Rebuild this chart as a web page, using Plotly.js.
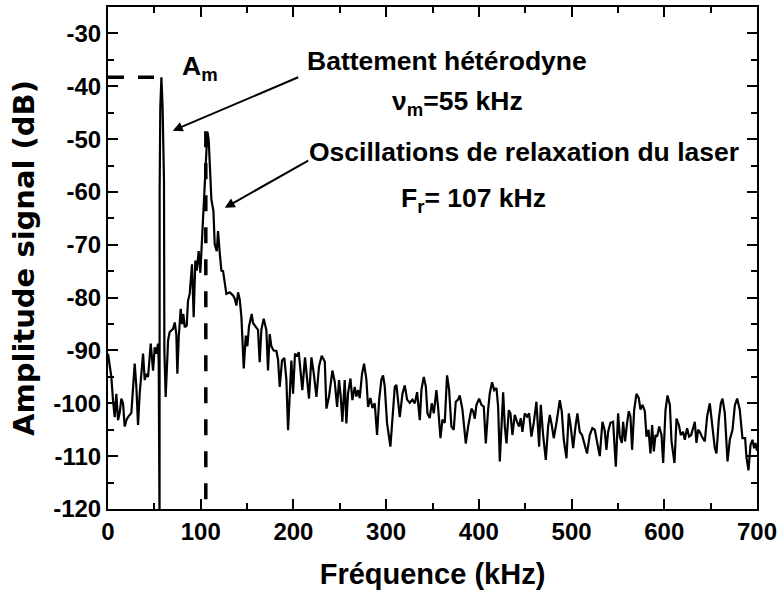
<!DOCTYPE html>
<html>
<head>
<meta charset="utf-8">
<script src="https://cdn.plot.ly/plotly-3.0.1.min.js"></script>
<style>html,body{margin:0;padding:0;background:#fff;}#chart{width:779px;height:592px;}</style>
</head>
<body>
<div id="chart"></div>
<script>
// Spectrum: frequency (kHz) and amplitude (dB)
const freqKHz = [
  0.0, 3.6, 5.4, 7.2, 9.0, 10.8, 12.6, 14.4, 16.2, 18.0, 19.8, 21.6, 25.2, 28.8, 30.6, 32.4, 34.2, 37.8, 39.6, 41.4,
  43.2, 46.1, 48.6, 50.4, 52.2, 53.9, 54.7, 55.6, 55.7, 56.4, 57.6, 58.9, 60.4, 60.8, 62.2, 64.8, 66.5, 70.2, 72.0, 73.7,
  74.8, 76.3, 78.4, 79.9, 81.3, 82.7, 84.9, 86.3, 88.1, 90.6, 92.4, 94.2, 95.7, 97.8, 99.6, 101.4, 103.2, 105.0, 106.1, 107.2,
  108.6, 110.1, 111.5, 113.7, 115.1, 117.3, 118.7, 120.5, 122.3, 124.1, 125.9, 127.7, 131.3, 134.9, 136.7, 138.5, 140.3, 142.1, 143.9, 146.4,
  148.6, 150.3, 152.1, 155.0, 156.4, 159.3, 161.8, 163.6, 165.4, 167.9, 170.8, 172.6, 174.4, 176.2, 178.7, 181.6, 183.4, 185.2, 187.7, 190.2,
  192.4, 194.2, 196.0, 197.8, 199.6, 201.7, 203.9, 205.7, 207.5, 209.6, 212.5, 214.7, 216.8, 219.4, 221.9, 224.8, 227.6, 230.5, 233.8, 235.6,
  238.4, 242.0, 244.6, 247.1, 249.2, 251.0, 252.8, 255.3, 257.1, 258.9, 261.5, 263.6, 266.1, 267.9, 269.7, 271.5, 274.0, 276.2, 278.7, 280.5,
  283.0, 285.2, 287.7, 290.2, 292.4, 294.9, 296.7, 298.5, 301.0, 304.6, 306.8, 309.3, 311.1, 312.9, 314.7, 317.6, 320.1, 322.6, 325.5, 328.4,
  330.9, 333.4, 336.3, 338.1, 340.6, 342.8, 344.6, 347.0, 349.2, 351.4, 354.2, 356.0, 358.6, 360.7, 363.2, 365.7, 367.9, 370.4, 372.9, 375.1,
  377.6, 379.4, 382.3, 385.9, 388.4, 392.0, 393.8, 395.6, 397.4, 400.3, 402.8, 405.3, 407.5, 410.0, 411.8, 414.3, 416.5, 419.0, 420.8, 422.6,
  424.4, 426.2, 428.0, 429.8, 432.3, 434.1, 436.2, 438.7, 441.2, 443.4, 445.2, 447.0, 449.5, 452.0, 454.2, 456.7, 459.2, 462.1, 465.0, 466.8,
  469.3, 472.2, 474.7, 476.5, 478.6, 480.8, 483.7, 487.3, 489.4, 491.6, 494.5, 497.0, 499.1, 501.7, 504.2, 506.3, 508.8, 511.3, 514.2, 516.7,
  519.6, 522.4, 525.0, 526.8, 528.6, 530.4, 533.3, 535.8, 537.6, 539.4, 541.9, 544.8, 547.7, 550.2, 552.0, 554.2, 555.6, 557.7, 559.9, 561.7,
  563.5, 565.3, 567.5, 570.0, 572.5, 574.3, 576.5, 579.0, 580.8, 583.0, 585.1, 586.9, 588.7, 590.5, 592.3, 594.5, 597.0, 598.8, 601.3, 603.5,
  606.0, 607.8, 611.0, 613.2, 615.7, 617.8, 620.3, 622.1, 624.6, 626.8, 629.0, 631.1, 632.9, 634.7, 636.5, 638.3, 640.5, 643.7, 646.2, 649.1,
  651.9, 654.5, 656.3, 658.8, 661.0, 662.8, 665.3, 668.2, 670.7, 673.6, 676.1, 678.6, 681.4, 684.3, 687.2, 688.6, 690.8, 693.0, 695.1, 696.9,
  698.4, 700.0
];
const amplitudeDB = [
  -90.6, -95.0, -99.4, -102.6, -98.2, -103.2, -101.8, -99.1, -100.0, -104.4, -103.2, -102.6, -101.8, -92.5, -96.9, -104.1, -98.1, -90.6, -95.6, -94.4,
  -95.0, -88.7, -93.8, -89.4, -90.6, -88.7, -92.0, -124.0, -60.0, -44.0, -38.3, -44.0, -58.0, -90.0, -98.8, -88.1, -86.5, -85.9, -84.7, -86.9,
  -94.4, -87.5, -82.1, -85.0, -83.1, -85.6, -85.3, -80.6, -79.3, -73.7, -83.7, -73.0, -74.9, -71.2, -75.3, -69.0, -65.2, -57.7, -53.0, -48.6,
  -50.1, -56.7, -61.4, -63.6, -69.9, -71.2, -67.4, -71.5, -74.9, -75.0, -77.4, -79.3, -79.0, -79.6, -80.2, -81.5, -79.0, -80.4, -83.7, -93.4,
  -87.2, -89.2, -85.4, -83.1, -84.8, -85.4, -86.1, -92.2, -86.1, -84.0, -86.1, -93.8, -86.9, -89.2, -90.0, -90.1, -91.7, -96.9, -91.9, -91.4,
  -95.5, -105.1, -97.4, -91.9, -98.2, -90.6, -91.1, -90.3, -93.6, -97.5, -91.3, -94.9, -99.1, -91.3, -94.3, -98.8, -93.0, -91.0, -92.1, -101.0,
  -98.7, -93.8, -96.0, -100.7, -95.6, -98.7, -103.5, -95.6, -103.8, -98.1, -95.3, -99.4, -96.9, -98.7, -97.5, -99.0, -94.4, -92.5, -95.5, -100.7,
  -99.0, -100.9, -100.0, -106.0, -99.4, -95.5, -94.7, -96.8, -103.8, -108.2, -103.1, -96.9, -96.5, -99.3, -102.6, -98.2, -96.6, -99.3, -99.9, -99.3,
  -100.0, -97.9, -103.2, -97.4, -95.0, -96.8, -101.9, -102.8, -100.0, -101.9, -97.5, -100.6, -106.6, -103.1, -103.7, -94.7, -97.4, -104.4, -105.0, -99.7,
  -99.3, -98.5, -101.2, -107.6, -104.4, -101.0, -101.5, -102.9, -100.3, -99.1, -100.3, -100.6, -107.6, -101.2, -98.1, -96.0, -97.5, -97.1, -100.7, -111.0,
  -103.7, -97.9, -104.4, -107.6, -101.3, -101.9, -106.0, -102.2, -103.5, -104.4, -102.8, -105.4, -101.9, -102.5, -101.9, -106.3, -103.7, -99.7, -108.2, -100.3,
  -106.0, -110.7, -104.4, -102.2, -104.1, -106.6, -103.7, -99.4, -101.5, -106.9, -110.4, -101.9, -104.4, -108.5, -104.4, -101.9, -105.4, -106.0, -107.9, -109.5,
  -106.0, -104.7, -105.0, -106.9, -108.2, -110.0, -103.5, -105.2, -108.8, -105.4, -103.7, -103.5, -112.0, -101.9, -106.3, -107.5, -103.5, -107.2, -103.7, -101.5,
  -102.5, -108.8, -101.3, -98.2, -99.0, -101.2, -100.3, -101.5, -106.3, -105.0, -109.5, -104.1, -109.1, -106.0, -106.3, -104.4, -106.0, -111.3, -101.3, -98.5,
  -100.3, -107.2, -111.3, -102.9, -104.1, -106.0, -105.4, -106.9, -104.7, -106.3, -106.0, -104.4, -103.5, -107.5, -105.0, -105.4, -106.3, -107.2, -102.5, -100.0,
  -104.4, -108.5, -109.5, -103.1, -100.0, -99.1, -101.9, -111.0, -106.9, -105.0, -100.4, -99.1, -101.2, -106.6, -106.6, -110.2, -112.7, -107.9, -106.9, -108.5,
  -107.5, -109.0
];

// Marker lines: heterodyne beat amplitude A_m and relaxation frequency F_r
const amLineX = [0, 56.0];
const amLineY = [-38.3, -38.3];
const frLineX = [105.5, 105.5];
const frLineY = [-48.5, -120];

// Tick labels
const xTickVals = [0, 100, 200, 300, 400, 500, 600, 700];
const xTickText = ['0', '100', '200', '300', '400', '500', '600', '700'];
const yTickVals = [-120, -110, -100, -90, -80, -70, -60, -50, -40, -30];
const yTickText = ['-120', '-110', '-100', '-90', '-80', '-70', '-60', '-50', '-40', '-30'];

const FONT = 'Liberation Sans, Arial, Helvetica, sans-serif';

const traces = [
  {x: freqKHz, y: amplitudeDB, type: 'scatter', mode: 'lines',
   line: {color: '#000', width: 2.2}, hoverinfo: 'skip', showlegend: false},
  {x: amLineX, y: amLineY, type: 'scatter', mode: 'lines',
   line: {color: '#000', width: 3.5, dash: '16px,14px'}, showlegend: false},
  {x: frLineX, y: frLineY, type: 'scatter', mode: 'lines',
   line: {color: '#000', width: 3.5, dash: '16px,16px'}, showlegend: false}
];

const annFont = {family: FONT, size: 26.5, color: '#000', weight: 'bold'};

const axisCommon = {
  showline: true, linecolor: '#000', linewidth: 2, mirror: 'allticks',
  ticks: 'inside', ticklen: 10, tickwidth: 2, tickcolor: '#000',
  showgrid: false, zeroline: false,
  tickfont: {family: FONT, size: 24, color: '#000', weight: 'bold'},
  tickmode: 'array'
};

const layout = {
  width: 779, height: 592,
  margin: {l: 108, r: 22, t: 7, b: 83, pad: 0},
  paper_bgcolor: '#fff', plot_bgcolor: '#fff',
  showlegend: false,
  xaxis: Object.assign({}, axisCommon, {
    range: [0, 700], tickvals: xTickVals, ticktext: xTickText,
    minor: {tickmode: 'linear', tick0: 0, dtick: 50, ticks: 'inside', ticklen: 6, tickwidth: 2, tickcolor: '#000'},
    title: {text: 'Fréquence (kHz)', font: {family: FONT, size: 29, color: '#000', weight: 'bold'}, standoff: 20}
  }),
  yaxis: Object.assign({}, axisCommon, {
    range: [-120, -25], tickvals: yTickVals, ticktext: yTickText,
    minor: {tickmode: 'linear', tick0: -120, dtick: 5, ticks: 'inside', ticklen: 6, tickwidth: 2, tickcolor: '#000'},
    title: {text: 'Amplitude signal (dB)\u00a0\u00a0', font: {family: 'DejaVu Sans, sans-serif', size: 29, color: '#000', weight: 'bold'}, standoff: 10}
  }),
  annotations: [
    {x: 77.3, y: -36.5, xref: 'x', yref: 'y', text: 'A<sub>m</sub>', showarrow: false,
     xanchor: 'left', yanchor: 'middle', font: annFont},
    {x: 365.6, y: -35.2, xref: 'x', yref: 'y', text: 'Battement hétérodyne', showarrow: false,
     xanchor: 'center', yanchor: 'middle', font: annFont},
    {x: 377, y: -43.2, xref: 'x', yref: 'y', text: 'ν<sub>m</sub>=55 kHz', showarrow: false,
     xanchor: 'center', yanchor: 'middle', font: annFont},
    {x: 448.4, y: -52.4, xref: 'x', yref: 'y', text: 'Oscillations de relaxation du laser', showarrow: false,
     xanchor: 'center', yanchor: 'middle', font: annFont},
    {x: 394, y: -61.5, xref: 'x', yref: 'y', text: 'F<sub>r</sub>= 107 kHz', showarrow: false,
     xanchor: 'center', yanchor: 'middle', font: annFont},
    {x: 69.8, y: -48.4, xref: 'x', yref: 'y', text: '', showarrow: true, ax: 127, ay: -54,
     arrowhead: 2, arrowsize: 1, arrowwidth: 2, arrowcolor: '#000', standoff: 0},
    {x: 125.9, y: -63.0, xref: 'x', yref: 'y', text: '', showarrow: true, ax: 85, ay: -48,
     arrowhead: 2, arrowsize: 1, arrowwidth: 2, arrowcolor: '#000', standoff: 0}
  ]
};

Plotly.newPlot('chart', traces, layout, {staticPlot: true, displayModeBar: false});
</script>
</body>
</html>
